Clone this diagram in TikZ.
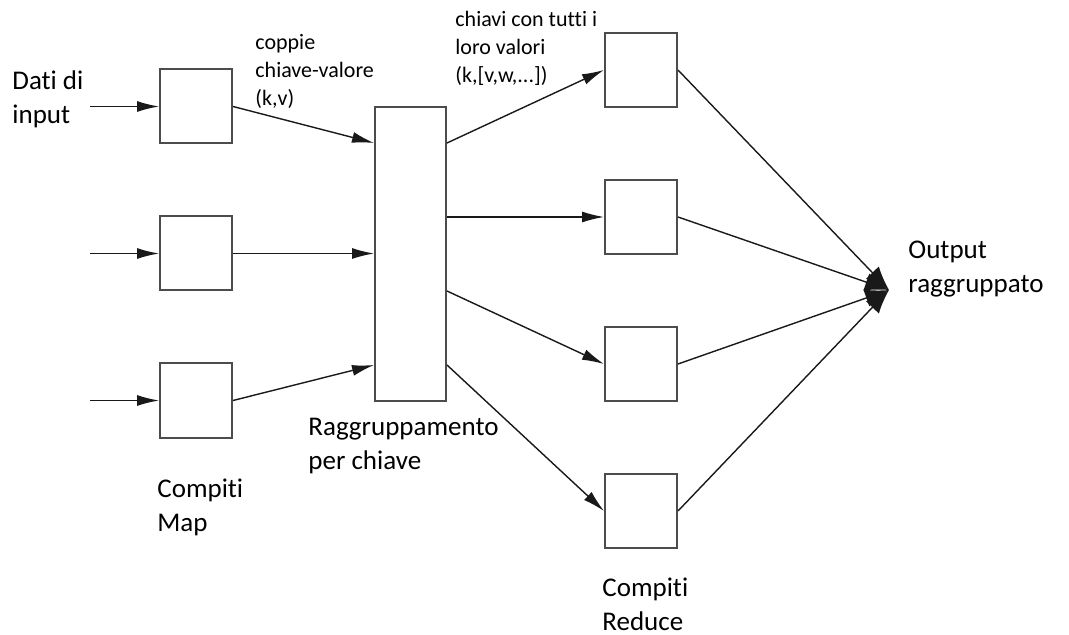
\documentclass[tikz,border=0pt]{standalone}
\usepackage{fontspec}
\setmainfont{Carlito}[Ligatures={NoCommon,NoRequired,NoContextual}]
\usetikzlibrary{arrows.meta,calc}

\begin{document}
\begin{tikzpicture}[x=0.5pt,y=-0.5pt]
        \tikzstyle{task}=[draw=black!70, line width=1pt, minimum width=36pt, minimum height=37pt, inner sep=0pt]
        \tikzstyle{bigtext}=[anchor=base west, inner sep=0pt, align=left, font=\fontsize{13.5}{17}\selectfont]
        \tikzstyle{smalltext}=[anchor=base west, inner sep=0pt, align=left, font=\fontsize{11}{14}\selectfont]
        \tikzstyle{flow}=[-{Latex[length=11pt,width=5.5pt]}, line width=0.7pt, black!90]
        \tikzstyle{merge}=[-{Latex[length=12pt,width=9pt]}, line width=0.7pt, black!90]

        \useasboundingbox (0,0) rectangle (1069,635);

        % map tasks
        \node[task] (m1) at (196,106.5) {};
        \node[task] (m2) at (196,253.5) {};
        \node[task] (m3) at (196,400.5) {};

        % grouping by key
        \node[task, minimum width=35.5pt, minimum height=147pt] (grp) at (410.5,254) {};

        % reduce tasks
        \node[task] (r1) at (641,70) {};
        \node[task] (r2) at (641,217) {};
        \node[task] (r3) at (641,364) {};
        \node[task] (r4) at (641,511) {};

        \coordinate (in1) at (90,106.5);
        \coordinate (in2) at (90,253.5);
        \coordinate (in3) at (90,400.5);
        \coordinate (out) at (889,290);

        \draw[flow] (in1) -- (m1.west);
        \draw[flow] (in2) -- (m2.west);
        \draw[flow] (in3) -- (m3.west);

        \draw[flow] (m1.east) -- ($(grp.north west)!0.125!(grp.south west)$);
        \draw[flow] (m2.east) -- (m2.east -| grp.west);
        \draw[flow] (m3.east) -- ($(grp.north west)!0.875!(grp.south west)$);

        \draw[flow] ($(grp.north east)!0.125!(grp.south east)$) -- (r1.west);
        \draw[flow] ($(grp.north east)!0.375!(grp.south east)$) -- (r2.west);
        \draw[flow] ($(grp.north east)!0.625!(grp.south east)$) -- (r3.west);
        \draw[flow] ($(grp.north east)!0.875!(grp.south east)$) -- (r4.west);

        \draw[merge] (r1.east) -- (out);
        \draw[merge] (r2.east) -- (out);
        \draw[merge] (r3.east) -- (out);
        \draw[merge] (r4.east) -- (out);

        % labels (base = last line)
        \node[bigtext] (input) at (12,124) {Dati di\\input};
        \node[smalltext] (pairs) at (255,106) {coppie\\chiave-valore\\(k,v)};
        \node[smalltext] (keys) at (455,83) {chiavi con tutti i\\loro valori\\(k,[v,w,...])};
        \node[bigtext] (output) at (908,293) {Output\\raggruppato};
        \node[bigtext] (grplbl) at (308,469) {Raggruppamento\\per chiave};
        \node[bigtext] (maplbl) at (157,531) {Compiti\\Map};
        \node[bigtext] (redlbl) at (602,630) {Compiti\\Reduce};

\end{tikzpicture}
\end{document}
